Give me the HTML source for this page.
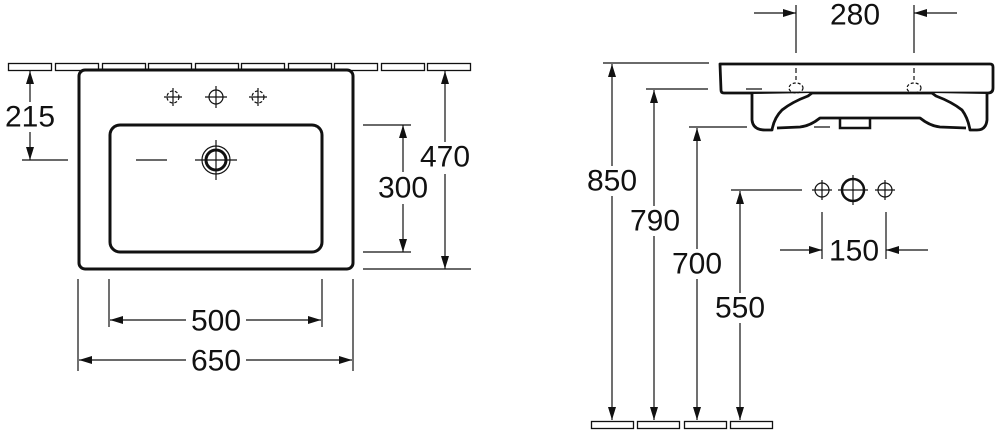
<!DOCTYPE html>
<html><head><meta charset="utf-8"><style>
html,body{margin:0;padding:0;background:#fff;}
svg{display:block}
text{font-family:"Liberation Sans",sans-serif;font-size:30px;fill:#111;text-anchor:middle;dominant-baseline:central}
</style></head><body>
<svg width="1000" height="433" viewBox="0 0 1000 433" xmlns="http://www.w3.org/2000/svg">
<g fill="none" stroke="#111" stroke-width="1.3">
<rect x="8.5" y="63.5" width="43" height="7"/>
<rect x="55.5" y="63.5" width="43" height="7"/>
<rect x="102.5" y="63.5" width="43" height="7"/>
<rect x="148.5" y="63.5" width="43" height="7"/>
<rect x="195.5" y="63.5" width="43" height="7"/>
<rect x="241.5" y="63.5" width="43" height="7"/>
<rect x="288.5" y="63.5" width="43" height="7"/>
<rect x="334.5" y="63.5" width="43" height="7"/>
<rect x="381.5" y="63.5" width="43" height="7"/>
<rect x="427.5" y="63.5" width="43" height="7"/>
</g>
<g fill="#fff" stroke="#111" stroke-width="3">
<rect x="79" y="70" width="274" height="199" rx="6"/>
<rect x="110" y="125" width="212" height="127" rx="10"/>
</g>
<g fill="none" stroke="#111" stroke-width="1.2">
<circle cx="173" cy="97" r="6" stroke-dasharray="3 2"/>
<path d="M164 97h18M173 88v18"/>
<circle cx="216" cy="97" r="7"/>
<path d="M205 97h22M216 86v22"/>
<circle cx="258" cy="97" r="6" stroke-dasharray="3 2"/>
<path d="M249 97h18M258 88v18"/>
<circle cx="216" cy="160" r="14"/>
<circle cx="216" cy="160" r="10" stroke-width="3"/>
<path d="M195 160h42M216 140v40"/>
<path d="M136 160h31"/>
<path d="M22 160h46M30 71v89"/>
<path d="M363 125h48M363 252h48M403 125v127"/>
<path d="M363 269h108M445 71v198"/>
<path d="M109 279v48M322 279v48M110 320h211"/>
<path d="M78 279v92M353 279v92M79 360h273"/>
</g>
<g fill="#fff">
<rect x="4" y="102" width="52" height="30"/>
<rect x="376" y="172" width="54" height="32"/>
<rect x="418" y="142" width="54" height="32"/>
<rect x="186" y="305" width="60" height="30"/>
<rect x="186" y="345" width="60" height="30"/>
</g>
<g fill="#111">
<polygon points="26,84 34,84 30,71"/><polygon points="26,147 34,147 30,160"/>
<polygon points="399,138 407,138 403,125"/><polygon points="399,239 407,239 403,252"/>
<polygon points="441,84 449,84 445,71"/><polygon points="441,256 449,256 445,269"/>
<polygon points="123,316 123,324 110,320"/><polygon points="308,316 308,324 321,320"/>
<polygon points="92,356 92,364 79,360"/><polygon points="339,356 339,364 352,360"/>
</g>
<text x="30" y="117">215</text>
<text x="403" y="188">300</text>
<text x="445" y="157">470</text>
<text x="216" y="321">500</text>
<text x="216" y="361">650</text>

<g fill="none" stroke="#111" stroke-width="1.3">
<rect x="591.5" y="421.5" width="42" height="7"/>
<rect x="637.5" y="421.5" width="42" height="7"/>
<rect x="684.5" y="421.5" width="42" height="7"/>
<rect x="730.5" y="421.5" width="42" height="7"/>
</g>
<g fill="#fff" stroke="#111" stroke-width="2.8" stroke-linejoin="round">
<path d="M720 64H990Q993 64 993 67V88Q993 93 988 93H724Q721 93 721 90Z"/>
<path d="M752 94V120Q753 130 765 130H772Q774 118 782 110Q792 102 808 96L812 93
 M932 93L936 96Q952 102 962 110Q968 118 970 130H977Q986 130 987 120V94
 M777 128L800 127Q810 126 820 118H920Q930 126 940 127L966 128"/>
</g>
<g fill="none" stroke="#111" stroke-width="2.5">
<path d="M840 118v10h30v-10"/>
</g>
<g fill="none" stroke="#111" stroke-width="1.2">
<path d="M796 5v48M914 5v48"/>
<path d="M754 13h42M914 13h43"/>
<path d="M796 68v12M914 68v12" stroke-dasharray="5 3"/>
<ellipse cx="796" cy="88" rx="7" ry="5" stroke-dasharray="3 2"/>
<ellipse cx="914" cy="88" rx="7" ry="5" stroke-dasharray="3 2"/>
<path d="M746 89h16M814 127h16"/>
<path d="M603 63h106M612 64v356"/>
<path d="M646 89h62M654 90v330"/>
<path d="M689 127h58M697 128v292"/>
<path d="M731 190h71M740 191v229"/>
<circle cx="822" cy="190" r="7"/><path d="M812 190h20M822 180v20"/>
<circle cx="853" cy="190" r="11" stroke-width="2.5"/><path d="M838 190h30M853 175v30"/>
<circle cx="885" cy="190" r="7"/><path d="M875 190h20M885 180v20"/>
<path d="M822 212v47M886 212v47M780 250h42M886 250h42"/>
</g>
<g fill="#fff">
<rect x="586" y="166" width="54" height="30"/>
<rect x="628" y="206" width="54" height="30"/>
<rect x="670" y="249" width="54" height="30"/>
<rect x="713" y="293" width="54" height="30"/>
</g>
<g fill="#111">
<polygon points="783,9 783,17 796,13"/><polygon points="927,9 927,17 914,13"/>
<polygon points="809,246 809,254 822,250"/><polygon points="899,246 899,254 886,250"/>
<polygon points="608,77 616,77 612,64"/><polygon points="608,407 616,407 612,420"/>
<polygon points="650,103 658,103 654,90"/><polygon points="650,407 658,407 654,420"/>
<polygon points="693,141 701,141 697,128"/><polygon points="693,407 701,407 697,420"/>
<polygon points="736,204 744,204 740,191"/><polygon points="736,407 744,407 740,420"/>
</g>
<text x="855" y="15">280</text>
<text x="612" y="181">850</text>
<text x="655" y="221">790</text>
<text x="697" y="264">700</text>
<text x="740" y="308">550</text>
<text x="854" y="251">150</text>
</svg>
</body></html>
